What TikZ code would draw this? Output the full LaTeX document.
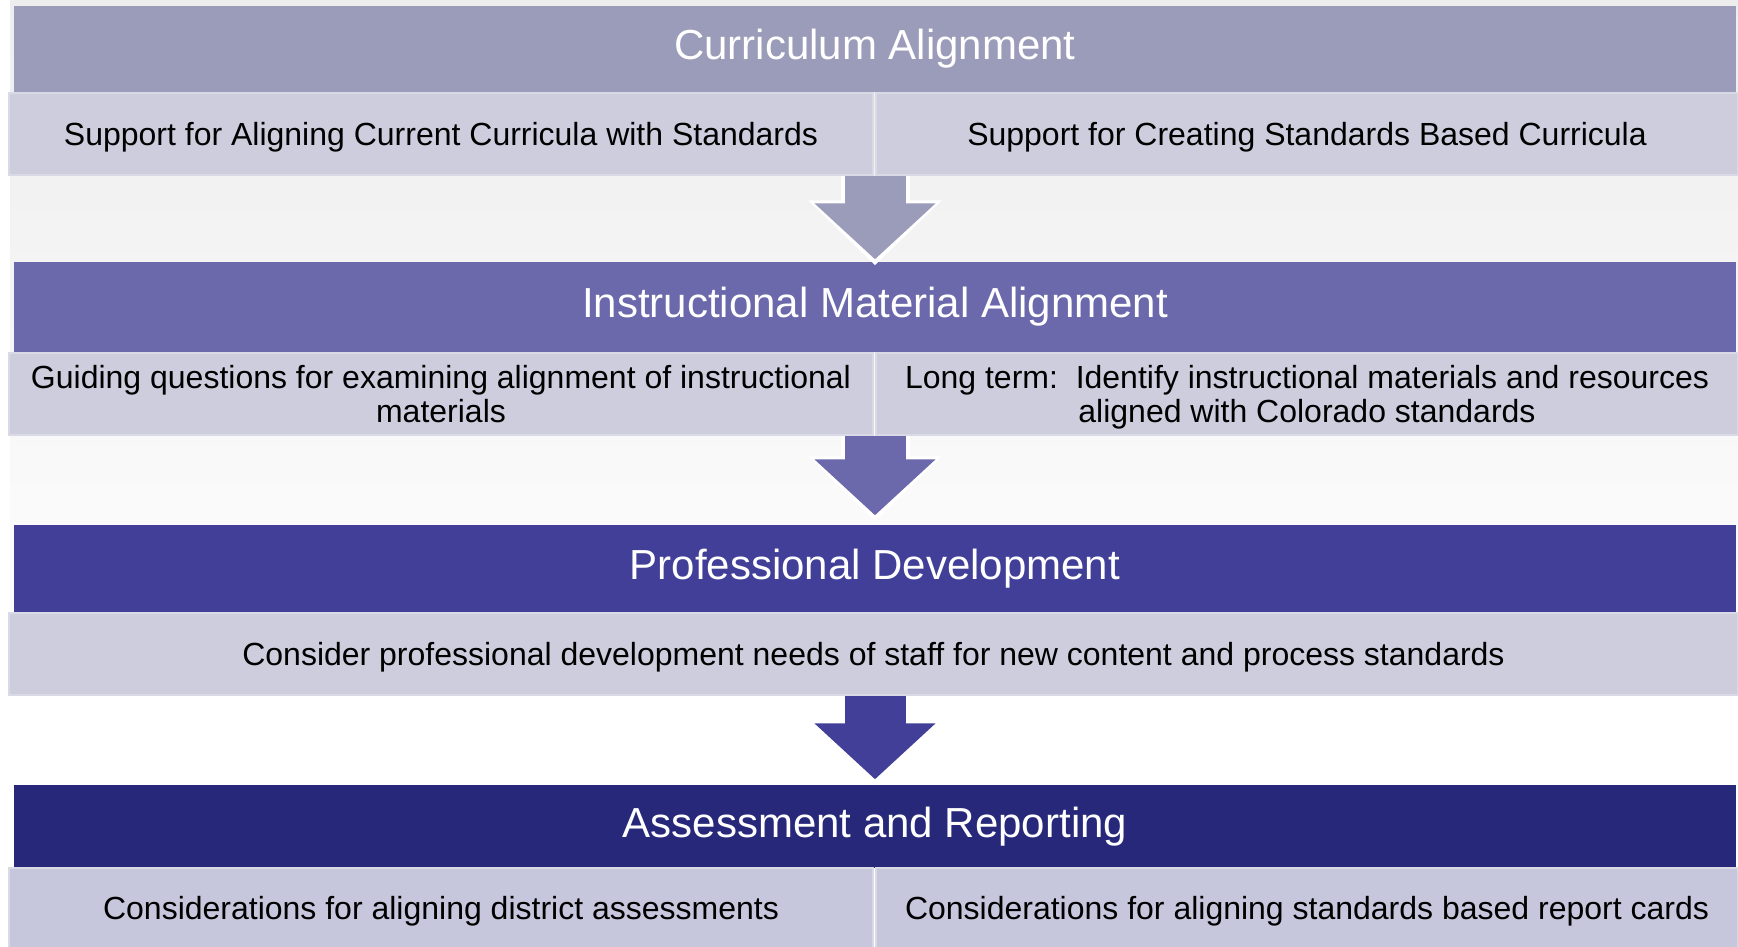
\documentclass[tikz,border=0pt]{standalone}
\usepackage{fontspec}
\setmainfont{Liberation Sans}
\usetikzlibrary{arrows.meta, calc, positioning}

\definecolor{hdA}{HTML}{9B9BBA}
\definecolor{hdB}{HTML}{6B68AB}
\definecolor{hdC}{HTML}{413F98}
\definecolor{hdD}{HTML}{27287A}
\definecolor{subfill}{HTML}{CDCDDE}
\definecolor{subfillD}{HTML}{C6C7DC}
\definecolor{subedge}{HTML}{DADAE6}

\begin{document}
\begin{tikzpicture}[x=0.1mm, y=-0.1mm,
    header/.style={minimum width=172.2mm, inner sep=0pt, text=white,
        font=\fontsize{4.2mm}{5mm}\selectfont},
    subbox/.style={fill=subfill, draw=subedge, line width=0.3pt, inner sep=0pt,
        minimum height=8.2mm, align=center, text=black, text depth=0pt,
        font=\fontsize{3.2mm}{3.4mm}\selectfont},
    flowedge/.style={white, line width=6.9mm, -{Triangle[length=6.5mm, width=13mm]}},
    flow/.style={line width=6.1mm, -{Triangle[length=5.6mm, width=11.8mm]}}]
    % background
    \useasboundingbox (0,0) rectangle (1738,947);
    \shade[top color=black!7, bottom color=white] (10,0) rectangle (1738,700);
    % Curriculum Alignment
    \node[header, fill=hdA, minimum height=8.6mm] (curr) at (875,49) {Curriculum Alignment};
    \node[subbox, minimum width=86.4mm] (align) at (441,134) {Support for Aligning Current Curricula with Standards};
    \node[subbox, minimum width=86.2mm] (create) at (1307,134) {Support for Creating Standards Based Curricula};
    % Instructional Material Alignment
    \node[header, fill=hdB, minimum height=9mm] (instr) at (875,307) {Instructional Material Alignment};
    \node[subbox, minimum width=86.4mm] (guide) at (441,394) {Guiding questions for examining alignment of instructional\\materials};
    \node[subbox, minimum width=86.2mm] (longterm) at (1307,394) {Long term:\ \ Identify instructional materials and resources\\aligned with Colorado standards};
    % Professional Development
    \node[header, fill=hdC, minimum height=8.7mm] (prof) at (875,568.5) {Professional Development};
    \node[subbox, minimum width=172.9mm] (needs) at (873.5,654) {Consider professional development needs of staff for new content and process standards};
    % Assessment and Reporting
    \node[header, fill=hdD, minimum height=8.3mm] (assess) at (875,826.5) {Assessment and Reporting};
    \node[subbox, fill=subfillD, minimum width=86.4mm, minimum height=8mm] (district) at (441,908) {Considerations for aligning district assessments};
    \node[subbox, fill=subfillD, minimum width=86.2mm, minimum height=8mm] (report) at (1307,908) {Considerations for aligning standards based report cards};
    % arrows between the steps
    \draw[flowedge] (curr.south |- align.south) -- ($(instr.north)+(0,4)$);
    \draw[flow, hdA] (curr.south |- align.south) -- ($(instr.north)+(0,-2)$);
    \draw[flowedge] (instr.south |- guide.south) -- ($(prof.north)+(0,-3)$);
    \draw[flow, hdB] (instr.south |- guide.south) -- ($(prof.north)+(0,-9)$);
    \draw[flowedge] (prof.south |- needs.south) -- ($(assess.north)+(0,1)$);
    \draw[flow, hdC] (prof.south |- needs.south) -- ($(assess.north)+(0,-5)$);
\end{tikzpicture}
\end{document}
